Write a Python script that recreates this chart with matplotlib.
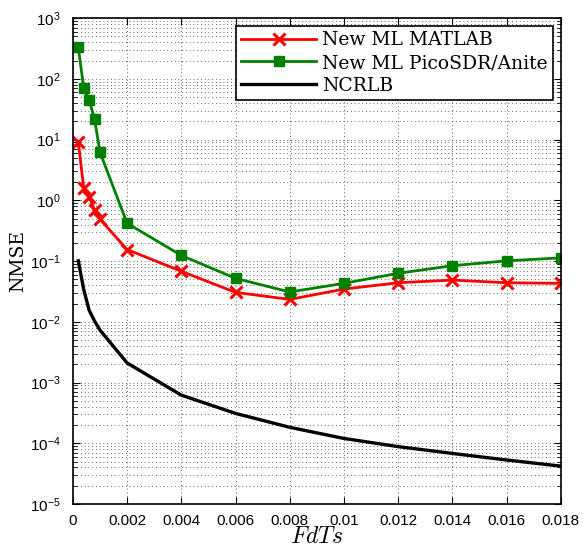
import numpy as np
import matplotlib
matplotlib.use("Agg")
import matplotlib.pyplot as plt
from matplotlib.ticker import LogLocator, FixedLocator, NullFormatter

## values
fdts = [0.0002, 0.0004, 0.0006, 0.0008, 0.001, 0.002, 0.004, 0.006,
        0.008, 0.01, 0.012, 0.014, 0.016, 0.018]
ml_matlab = [9.0, 1.6, 1.15, 0.69, 0.49, 0.155, 0.068, 0.0305,
             0.0234, 0.0346, 0.044, 0.0487, 0.044, 0.043]
ml_pico = [330, 71, 45, 21.7, 6.2, 0.42, 0.124, 0.052,
           0.031, 0.043, 0.063, 0.084, 0.101, 0.113]
ncrlb = [0.101, 0.034, 0.0155, 0.0103, 0.0073, 0.0021, 0.00062, 0.00031,
         0.000183, 0.00012, 8.8e-5, 6.8e-5, 5.3e-5, 4.2e-5]

xticks = [0, 0.002, 0.004, 0.006, 0.008, 0.01, 0.012, 0.014, 0.016, 0.018]
xticklabels = ["0", "0.002", "0.004", "0.006", "0.008", "0.01", "0.012",
               "0.014", "0.016", "0.018"]

plt.rcParams["font.family"] = "Liberation Sans"
plt.rcParams["mathtext.fontset"] = "cm"

fig = plt.figure(figsize=(5.83, 5.52), dpi=100)
ax = fig.add_axes([0.125, 0.087, 0.837, 0.88])

ax.semilogy(fdts, ml_matlab, color="#ff0000", lw=2, marker="x",
            ms=9, mew=2.2, label="New ML MATLAB")
ax.semilogy(fdts, ml_pico, color="#008000", lw=2, marker="s",
            ms=6.5, label="New ML PicoSDR/Anite")
ax.semilogy(fdts, ncrlb, color="black", lw=2.4, label="NCRLB")

ax.set_xlim(0, 0.018)
ax.set_ylim(1e-5, 1e3)

ax.xaxis.set_major_locator(FixedLocator(xticks))
ax.set_xticklabels(xticklabels)
ax.yaxis.set_major_locator(LogLocator(base=10, numticks=20))
ax.yaxis.set_minor_locator(LogLocator(base=10, subs=np.arange(2, 10), numticks=20))
ax.yaxis.set_minor_formatter(NullFormatter())

## matlab style dotted grid, sparse dots
ax.grid(True, which="major", axis="both", linestyle=(0, (1, 3.5)), color="#333333", lw=0.6)
ax.grid(True, which="minor", axis="y", linestyle=(0, (1, 3.5)), color="#333333", lw=0.6)

ax.tick_params(which="both", direction="in", top=True, right=True)
ax.tick_params(which="major", length=5, labelsize=11)
ax.tick_params(axis="y", which="major", pad=9)
ax.tick_params(axis="x", which="major", pad=7)
ax.tick_params(which="minor", length=3)
for s in ax.spines.values():
    s.set_linewidth(1.2)

ax.set_xlabel("$FdTs$", fontsize=17, labelpad=-1)
ax.set_ylabel("NMSE", fontsize=13.5, family="DejaVu Serif", labelpad=2)

leg = ax.legend(loc="upper right", prop={"family": "DejaVu Serif", "size": 13.5},
                handlelength=4.0, handletextpad=0.3, fancybox=False, framealpha=1,
                borderaxespad=0.4, labelspacing=0.25, borderpad=0.3)
leg.get_frame().set_edgecolor("black")
leg.get_frame().set_linewidth(1.2)

fig.savefig("out.png", dpi=100)
